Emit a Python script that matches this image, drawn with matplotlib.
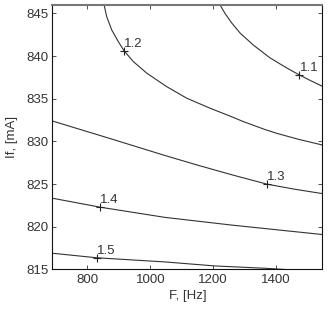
import matplotlib
matplotlib.use('Agg')
import matplotlib.pyplot as plt

plt.rcParams['font.family'] = ['Liberation Sans', 'DejaVu Sans']

# Contour lines: F [Hz], If [mA]
f_11 = [1222, 1238, 1259, 1286, 1328, 1381, 1435, 1472, 1509, 1546]
i_11 = [846.0, 845.0, 843.9, 842.7, 841.3, 839.8, 838.6, 837.85, 837.15, 836.5]

f_12 = [853, 861, 877, 898, 916, 946, 989, 1052, 1116, 1190, 1259, 1296, 1365, 1403, 1472, 1546]
i_12 = [846.0, 844.64, 843.08, 841.71, 840.65, 839.36, 838.0, 836.43, 835.07, 833.9,
        832.9, 832.33, 831.4, 830.95, 830.25, 829.6]

f_13 = [688, 840, 946, 1047, 1153, 1259, 1371, 1460, 1546]
i_13 = [832.4, 830.7, 829.5, 828.35, 827.2, 826.1, 825.0, 824.4, 823.9]

f_14 = [688, 840, 1047, 1259, 1546]
i_14 = [823.35, 822.3, 821.1, 820.2, 819.1]

f_15 = [688, 829, 1047, 1206, 1365, 1450]
i_15 = [816.9, 816.37, 815.88, 815.41, 815.14, 814.95]

# label positions (the "+" marks)
lab_txt = ['1.1', '1.2', '1.3', '1.4', '1.5']
lab_f = [1475, 916, 1371, 840, 829]
lab_i = [837.8, 840.65, 825.0, 822.3, 816.37]

fig = plt.figure(figsize=(3.29, 3.09), dpi=100)
ax = fig.add_axes([0.159, 0.128, 0.821, 0.856])

col = '#333333'
for f, i in [(f_11, i_11), (f_12, i_12), (f_13, i_13), (f_14, i_14), (f_15, i_15)]:
    ax.plot(f, i, color=col, linewidth=0.8)

for t, f, i in zip(lab_txt, lab_f, lab_i):
    ax.plot(f, i, marker='+', color='#222222', markersize=6, markeredgewidth=0.8)
    ax.annotate(t, (f, i), xytext=(0, 0.5), textcoords='offset points',
                ha='left', va='bottom', fontsize=9.5, color='#333333')

ax.set_xlim(688, 1548)
ax.set_ylim(815, 846)
ax.set_xticks([800, 1000, 1200, 1400])
ax.set_yticks([815, 820, 825, 830, 835, 840, 845])
ax.tick_params(direction='in', length=3, width=0.6, top=True, right=True,
               labelsize=9.5, colors='#333333', pad=3)
for s in ax.spines.values():
    s.set_linewidth(0.8)
    s.set_color('#111111')
ax.spines['top'].set_color('#777777')
ax.spines['top'].set_linewidth(1.5)

ax.set_xlabel('F, [Hz]', fontsize=9.5, color='#333333', labelpad=3)
ax.set_ylabel('If, [mA]', fontsize=9.5, color='#333333', labelpad=6)

fig.savefig('out.png', dpi=100)
